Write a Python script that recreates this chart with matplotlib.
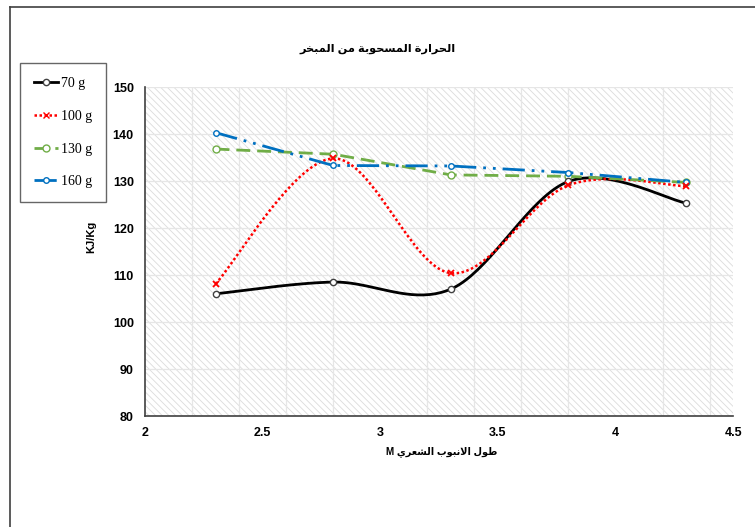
import numpy as np
import matplotlib
matplotlib.use("Agg")
from matplotlib import pyplot as plt
from matplotlib.lines import Line2D
from matplotlib.patches import Rectangle

# tube length (m) and heat drawn from the evaporator (kJ/kg) per charge
length_m = [2.3, 2.8, 3.3, 3.8, 4.3]
q_70g = [106.0, 108.5, 107.0, 129.9, 125.3]
q_100g = [108.1, 134.8, 110.4, 129.1, 128.9]
q_130g = [136.8, 135.7, 131.3, 131.0, 129.7]
q_160g = [140.3, 133.3, 133.2, 131.8, 129.7]
labels = ["70 g", "100 g", "130 g", "160 g"]

TITLE = "الحرارة المسحوبة من المبخر"
XLABEL = "طول الانبوب الشعري"

# minimal arabic shaping: (isolated, final, initial, medial)
FORMS = {
    "ا": (0xFE8D, 0xFE8E, None, None),
    "ب": (0xFE8F, 0xFE90, 0xFE91, 0xFE92),
    "ة": (0xFE93, 0xFE94, None, None),
    "ح": (0xFEA1, 0xFEA2, 0xFEA3, 0xFEA4),
    "خ": (0xFEA5, 0xFEA6, 0xFEA7, 0xFEA8),
    "ر": (0xFEAD, 0xFEAE, None, None),
    "س": (0xFEB1, 0xFEB2, 0xFEB3, 0xFEB4),
    "ش": (0xFEB5, 0xFEB6, 0xFEB7, 0xFEB8),
    "ط": (0xFEC1, 0xFEC2, 0xFEC3, 0xFEC4),
    "ع": (0xFEC9, 0xFECA, 0xFECB, 0xFECC),
    "ل": (0xFEDD, 0xFEDE, 0xFEDF, 0xFEE0),
    "م": (0xFEE1, 0xFEE2, 0xFEE3, 0xFEE4),
    "ن": (0xFEE5, 0xFEE6, 0xFEE7, 0xFEE8),
    "و": (0xFEED, 0xFEEE, None, None),
    "ي": (0xFEF1, 0xFEF2, 0xFEF3, 0xFEF4),
}


def shape(text):
    out = []
    i = 0
    n = len(text)
    while i < n:
        c = text[i]
        if c not in FORMS:
            out.append(c)
            i += 1
            continue
        prev = text[i - 1] if i > 0 else ""
        joins_prev = prev in FORMS and FORMS[prev][2] is not None
        if c == "ل" and i + 1 < n and text[i + 1] == "ا":
            out.append(chr(0xFEFC if joins_prev else 0xFEFB))
            i += 2
            continue
        nxt = text[i + 1] if i + 1 < n else ""
        joins_next = nxt in FORMS and FORMS[c][2] is not None
        iso, fin, ini, med = FORMS[c]
        if joins_prev and joins_next:
            code = med
        elif joins_prev:
            code = fin
        elif joins_next:
            code = ini
        else:
            code = iso
        out.append(chr(code))
        i += 1
    return "".join(out)[::-1]


def smooth(x, y, n=40):
    # catmull-rom through the points, like a spreadsheet "smoothed line"
    x = np.asarray(x, float)
    y = np.asarray(y, float)
    px = np.concatenate([[x[0]], x, [x[-1]]])
    py = np.concatenate([[y[0]], y, [y[-1]]])
    t = np.linspace(0, 1, n)
    xs, ys = [], []
    for k in range(1, len(px) - 2):
        p0 = np.array([px[k], py[k]])
        p3 = np.array([px[k + 1], py[k + 1]])
        c1 = p0 + (np.array([px[k + 1], py[k + 1]]) - np.array([px[k - 1], py[k - 1]])) / 6
        c2 = p3 - (np.array([px[k + 2], py[k + 2]]) - np.array([px[k], py[k]])) / 6
        b = ((1 - t) ** 3)[:, None] * p0 + (3 * (1 - t) ** 2 * t)[:, None] * c1 \
            + (3 * (1 - t) * t ** 2)[:, None] * c2 + (t ** 3)[:, None] * p3
        xs.append(b[:, 0])
        ys.append(b[:, 1])
    return np.concatenate(xs), np.concatenate(ys)


plt.rcParams["font.family"] = ["Liberation Sans", "DejaVu Sans"]
plt.rcParams["hatch.linewidth"] = 0.6

fig = plt.figure(figsize=(7.55, 5.27), dpi=100)
ax = fig.add_axes([0.192, 0.2106, 0.779, 0.6243])

# hatched plot area
ax.add_patch(Rectangle((0, 0), 1, 1, transform=ax.transAxes, facecolor="white",
                       edgecolor="#dcdcdc", hatch="\\\\\\\\\\", lw=0, zorder=0))

ax.set_xlim(2, 4.5)
ax.set_ylim(80, 150)
ax.set_xticks(np.arange(2, 4.51, 0.5))
ax.set_xticklabels(["2", "2.5", "3", "3.5", "4", "4.5"])
ax.set_yticks(np.arange(80, 151, 10))
ax.set_xticks(np.arange(2.2, 4.5, 0.2), minor=True)
ax.grid(True, which="major", axis="y", color="#e6e6e6", lw=0.9, zorder=1)
ax.grid(True, which="minor", axis="x", color="#e6e6e6", lw=0.9, zorder=1)
ax.tick_params(which="both", length=0, labelsize=9, pad=8)
for lab in ax.get_xticklabels() + ax.get_yticklabels():
    lab.set_fontweight("bold")
for s in ["top", "right"]:
    ax.spines[s].set_visible(False)
for s in ["left", "bottom"]:
    ax.spines[s].set_color("#404040")
    ax.spines[s].set_linewidth(1.2)
ax.set_axisbelow(True)

# 70 g and 100 g drawn as smoothed curves
sx, sy = smooth(length_m, q_70g)
ax.plot(sx, sy, color="black", lw=2, zorder=3)
ax.plot(length_m, q_70g, ls="none", marker="o", ms=4.5, mfc="white", mec="#404040",
        mew=1, zorder=6)

sx, sy = smooth(length_m, q_100g)
ax.plot(sx, sy, color="red", lw=1.8, ls=(0, (1, 1)), zorder=4)
ax.plot(length_m, q_100g, ls="none", marker="x", ms=4.5, mec="red", mew=1.3, zorder=6)

ax.plot(length_m, q_130g, color="#70AD47", lw=2, ls=(0, (5, 2.5)), marker="o", ms=5,
        mfc="white", mec="#70AD47", mew=1, zorder=4)
ax.plot(length_m, q_160g, color="#0070C0", lw=2, ls=(0, (8, 2.5, 1, 2.5, 1, 2.5)),
        marker="o", ms=4, mfc="white", mec="#0070C0", mew=1, zorder=5)

fig.text(0.5, 0.908, shape(TITLE), ha="center", va="center", fontsize=8.2,
         fontweight="bold")
fig.text(0.585, 0.143, "M " + shape(XLABEL), ha="center", va="center", fontsize=7,
         fontweight="bold")
fig.text(0.121, 0.55, "KJ/Kg", rotation=90, ha="center", va="center", fontsize=8,
         fontweight="bold")

handles = [
    Line2D([], [], color="black", lw=2, marker="o", ms=4.5, mfc="white", mec="#404040"),
    Line2D([], [], color="red", lw=1.8, ls=(0, (1, 1)), marker="x", ms=4.5, mec="red"),
    Line2D([], [], color="#70AD47", lw=2, ls=(0, (5, 2.5)), marker="o", ms=5,
           mfc="white", mec="#70AD47"),
    Line2D([], [], color="#0070C0", lw=2, ls=(0, (8, 2.5, 1, 2.5)), marker="o", ms=4,
           mfc="white", mec="#0070C0"),
]
leg = fig.legend(handles, labels, loc="upper left", bbox_to_anchor=(0.0265, 0.88),
                 prop={"family": "Liberation Serif", "size": 10}, frameon=True,
                 fancybox=False, edgecolor="#404040", handlelength=1.75,
                 labelspacing=1.42, borderpad=1.0, handletextpad=0.2, borderaxespad=0)
leg.get_frame().set_linewidth(1)

# outer frame
fig.add_artist(Line2D([10 / 755, 10 / 755], [0, 1 - 7 / 527], color="#404040", lw=1.2))
fig.add_artist(Line2D([10 / 755, 1], [1 - 7 / 527, 1 - 7 / 527], color="#404040", lw=1.2))

fig.savefig("out.png", dpi=100)
